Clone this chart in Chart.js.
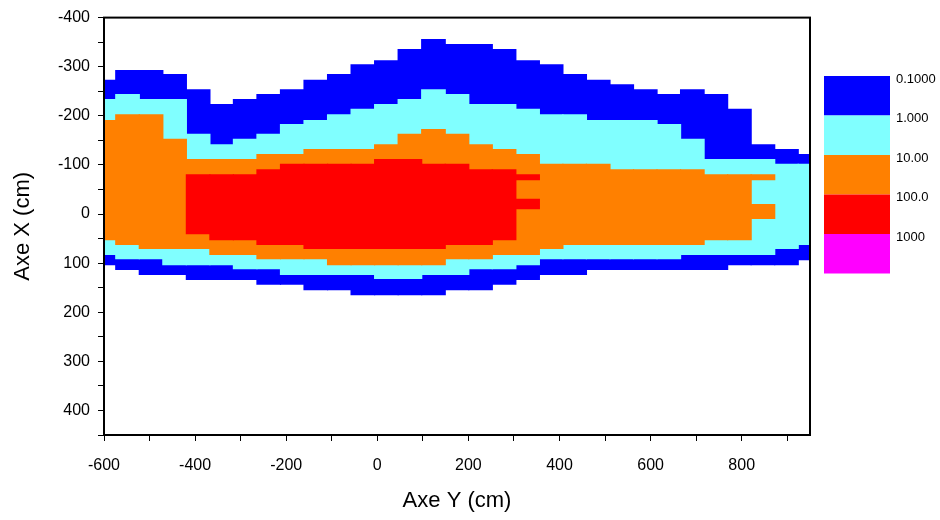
<!DOCTYPE html>
<html>
<head>
<meta charset="utf-8">
<script src="https://cdn.jsdelivr.net/npm/chart.js@4.4.0/dist/chart.umd.min.js"></script>
<style>
  html, body { margin: 0; padding: 0; background: #fff; }
</style>
</head>
<body>
<canvas id="grafico" width="940" height="520"></canvas>
<script>
// centres des colonnes (cm, Axe Y)
const colX = [-600, -548.33, -496.67, -445, -393.33, -341.67, -290, -238.33, -186.67, -135,
  -83.33, -31.67, 20, 71.67, 123.33, 175, 226.67, 278.33, 330, 381.67, 433.33, 485,
  536.67, 588.33, 640, 691.67, 743.33, 795, 846.67, 898.33, 950]

// limites de chaque niveau par colonne (cm, Axe X)
const bleuHaut = [-272, -292, -292, -284, -253, -223, -233, -243, -253, -272, -284, -304, -312, -335, -355, -345,
  -345, -335, -312, -304, -284, -272, -263, -253, -243, -253, -243, -213, -141, -131, -121]
const bleuBas = [103, 113, 123, 123, 133, 133, 133, 143, 143, 154, 154, 164, 164, 164, 164, 154,
  154, 143, 133, 123, 123, 113, 113, 113, 113, 113, 113, 103, 103, 103, 93]

const cyanHaut = [-233, -243, -233, -233, -162, -141, -152, -162, -182, -190, -202, -213, -223, -233, -253, -243,
  -223, -223, -213, -202, -202, -190, -190, -190, -182, -152, -111, -111, -111, -101, -101]
const cyanBas = [82, 91, 91, 103, 103, 103, 111, 111, 123, 123, 123, 123, 131, 131, 123, 123,
  111, 111, 103, 91, 91, 91, 91, 91, 91, 82, 82, 82, 82, 70, 62]

const orangeHaut = [-190, -202, -202, -152, -111, -111, -111, -121, -121, -131, -131, -131, -141, -162, -172, -162,
  -141, -131, -121, -101, -101, -101, -90, -90, -90, -90, -80, -80, null, null, null]
const orangeBas = [52, 62, 70, 70, 70, 82, 82, 91, 91, 91, 103, 103, 103, 103, 103, 91,
  91, 82, 82, 70, 62, 62, 62, 62, 62, 62, 52, 52, null, null, null]

const rougeHaut = [null, null, null, null, -80, -80, -80, -90, -101, -101, -101, -101, -111, -111, -101, -101,
  -90, -90, null, null, null, null, null, null, null, null, null, null, null, null, null]
const rougeBas = [null, null, null, null, 40, 52, 52, 62, 62, 70, 70, 70, 70, 70, 70, 62,
  62, 52, null, null, null, null, null, null, null, null, null, null, null, null, null]

// petits ilots isoles
const ilotsRouge = [[330, -80, -70], [330, -30, -11]]
const ilotsOrange = [[846.67, -80, -70], [846.67, -19, 9]]

// echelle de couleurs
const niveaux = ['0.1000', '1.000', '10.00', '100.0', '1000']
const couleurs = ['#0000FF', '#80FFFF', '#FF8000', '#FF0000', '#FF00FF']

Chart.defaults.font.family = 'Liberation Sans, Arial, sans-serif'
Chart.defaults.color = '#000'

function faixa(hauts, bas) {
  return colX.map((x, i) => ({ x: x, y: hauts[i] == null ? null : [hauts[i], bas[i]] }))
}

function ilot(lista) {
  return lista.map(p => ({ x: p[0], y: [p[1], p[2]] }))
}

const datasets = [
  { label: 'rouge', data: faixa(rougeHaut, rougeBas), backgroundColor: couleurs[3], order: 1 },
  { label: 'rouge ilots', data: ilot(ilotsRouge), backgroundColor: couleurs[3], order: 1 },
  { label: 'orange', data: faixa(orangeHaut, orangeBas), backgroundColor: couleurs[2], order: 2 },
  { label: 'orange ilots', data: ilot(ilotsOrange), backgroundColor: couleurs[2], order: 2 },
  { label: 'cyan', data: faixa(cyanHaut, cyanBas), backgroundColor: couleurs[1], order: 3 },
  { label: 'bleu', data: faixa(bleuHaut, bleuBas), backgroundColor: couleurs[0], order: 4 },
]

// cadre autour de la zone du graphique
const cadre = {
  id: 'cadre',
  afterDatasetsDraw(chart) {
    const { ctx, chartArea: a } = chart
    ctx.save()
    ctx.strokeStyle = '#000'
    ctx.lineWidth = 2
    ctx.strokeRect(a.left, a.top, a.right - a.left, a.bottom - a.top)
    ctx.restore()
  }
}

// echelle de couleurs a droite
const echelle = {
  id: 'echelle',
  afterDraw(chart) {
    const ctx = chart.ctx
    const x = 824, w = 66, top = 76, h = 39.5
    ctx.save()
    couleurs.forEach((c, i) => {
      ctx.fillStyle = c
      ctx.fillRect(x, top + i * h, w, h)
    })
    ctx.fillStyle = '#000'
    ctx.font = '13px Liberation Sans, Arial, sans-serif'
    ctx.textBaseline = 'middle'
    ctx.textAlign = 'left'
    niveaux.forEach((t, i) => {
      ctx.fillText(t, 896, top + i * h + 3)
    })
    ctx.restore()
  }
}

new Chart(document.getElementById('grafico'), {
  type: 'bar',
  data: { datasets: datasets },
  plugins: [cadre, echelle],
  options: {
    responsive: false,
    animation: false,
    layout: { padding: { top: 17, right: 130, left: 0, bottom: 0 } },
    plugins: { legend: { display: false }, tooltip: { enabled: false } },
    datasets: {
      bar: {
        grouped: false, barPercentage: 1, categoryPercentage: 1,
        borderWidth: 0, inflateAmount: 0.6, clip: 0
      }
    },
    scales: {
      x: {
        type: 'linear',
        min: -600,
        max: 950,
        offset: false,
        afterFit: (s) => { s.height = 85 },
        grid: { offset: false, drawOnChartArea: false, drawTicks: true, tickLength: 6, color: '#000' },
        border: { color: '#000', width: 2 },
        ticks: {
          stepSize: 100,
          autoSkip: false,
          maxRotation: 0,
          includeBounds: false,
          padding: 15,
          font: { size: 16 },
          callback: (v) => v % 200 === 0 ? v : ''
        },
        title: { display: true, text: 'Axe Y (cm)', font: { size: 22 }, padding: { top: 0, bottom: 6 } }
      },
      y: {
        type: 'linear',
        reverse: true,
        min: -400,
        max: 450,
        afterFit: (s) => { s.width = 104 },
        grid: { drawOnChartArea: false, drawTicks: true, tickLength: 6, color: '#000' },
        border: { color: '#000', width: 2 },
        ticks: {
          stepSize: 50,
          autoSkip: false,
          includeBounds: false,
          padding: 8,
          font: { size: 16 },
          callback: (v) => v % 100 === 0 ? v : ''
        },
        title: { display: true, text: 'Axe X (cm)', font: { size: 22 }, padding: { top: 10, bottom: 0 } }
      }
    }
  }
})
</script>
</body>
</html>
